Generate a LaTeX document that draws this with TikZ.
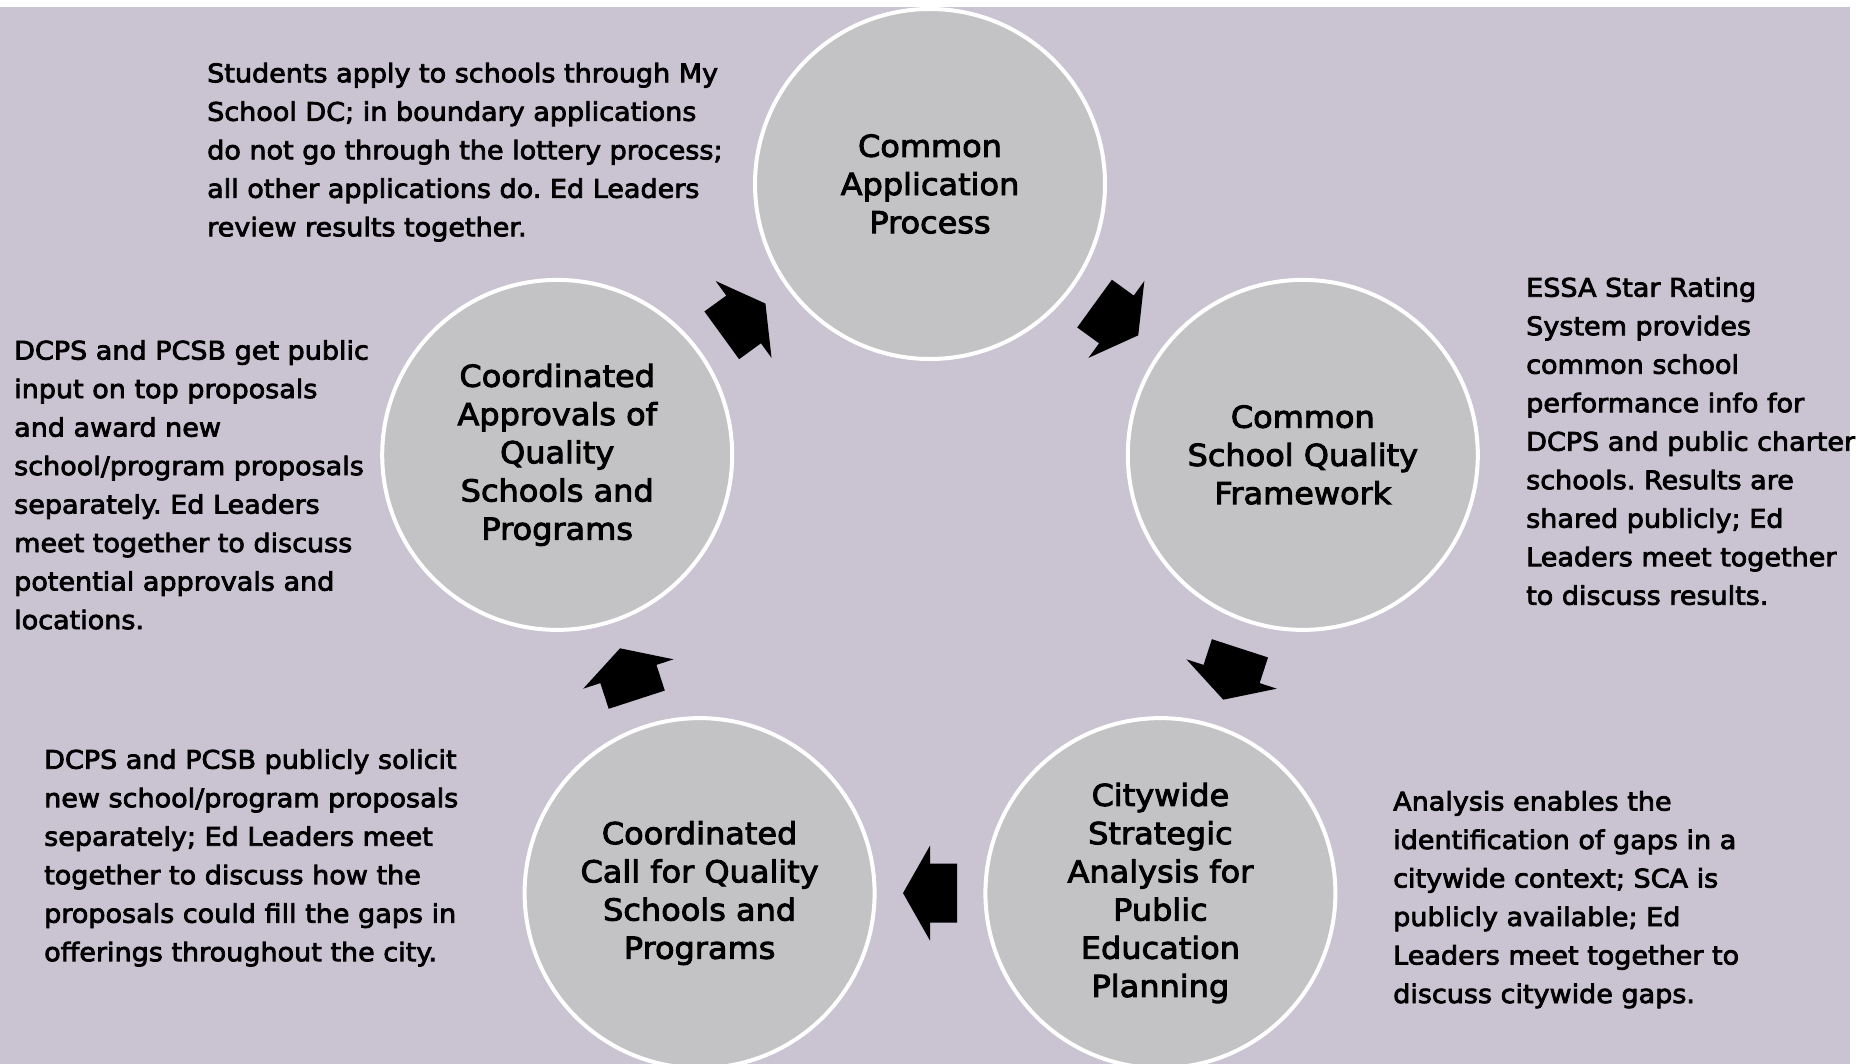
\documentclass[tikz,border=0pt]{standalone}
\usepackage{fontspec}
\setmainfont{DejaVu Sans}[FakeStretch=1.055, FakeBold=3]
\usetikzlibrary{calc}
\definecolor{bgc}{RGB}{201,195,210}
\definecolor{circc}{RGB}{195,195,197}
\frenchspacing
\begin{document}
\begin{tikzpicture}[x=1pt,y=-1pt,
  stage/.style={circle, fill=circc, draw=white, line width=4pt, minimum size=350pt, inner sep=0pt, align=center, font=\fontsize{30.3}{38.2}\selectfont},
  desc/.style={anchor=base west, inner sep=0pt, font=\fontsize{25.6}{38.5}\selectfont},
  blockarrow/.style={fill=black}]
\useasboundingbox (0,0) rectangle (1862,1064);
\fill[white] (0,0) rectangle (1862,1064);
\fill[bgc] (0,7) rectangle (1850,1064);

\node[stage] (app) at (930,184) {Common\\Application\\Process};
\node[stage] (qual) at (1302.8,454.9) {Common\\School Quality\\Framework};
\node[stage] (sca) at (1160.4,893.1) {Citywide\\Strategic\\Analysis for\\Public\\Education\\Planning};
\node[stage] (call) at (699.6,893.1) {Coordinated\\Call for Quality\\Schools and\\Programs};
\node[stage] (appr) at (557.2,454.9) {Coordinated\\Approvals of\\Quality\\Schools and\\Programs};

\foreach \a/\b/\ang in {app/qual/-36, qual/sca/-108, sca/call/180, call/appr/108, appr/app/36}{
  \fill[blockarrow, shift={($(\a)!0.5!(\b)$)}, rotate=\ang]
    (-27,-29.5) -- (0,-29.5) -- (0,-47.5) -- (27,0) -- (0,47.5) -- (0,29.5) -- (-27,29.5) -- cycle;
}

\node[desc] (t1) at (207,82.3) {\parbox[t]{700pt}{\raggedright Students apply to schools through My\\School DC; in boundary applications\\do not go through the lottery process;\\all other applications do. Ed Leaders\\review results together.}};
\node[desc] (t2) at (14,359.6) {\parbox[t]{700pt}{\raggedright DCPS and PCSB get public\\input on top proposals\\and award new\\school/program proposals\\separately. Ed Leaders\\meet together to discuss\\potential approvals and\\locations.}};
\node[desc] (t3) at (1526,296.7) {\parbox[t]{700pt}{\raggedright ESSA Star Rating\\System provides\\common school\\performance info for\\DCPS and public charter\\schools. Results are\\shared publicly; Ed\\Leaders meet together\\to discuss results.}};
\node[desc] (t4) at (44,768.7) {\parbox[t]{700pt}{\raggedright DCPS and PCSB publicly solicit\\new school/program proposals\\separately; Ed Leaders meet\\together to discuss how the\\proposals could fill the gaps in\\offerings throughout the city.}};
\node[desc] (t5) at (1393,810.5) {\parbox[t]{700pt}{\raggedright Analysis enables the\\identification of gaps in a\\citywide context; SCA is\\publicly available; Ed\\Leaders meet together to\\discuss citywide gaps.}};
\end{tikzpicture}
\end{document}
